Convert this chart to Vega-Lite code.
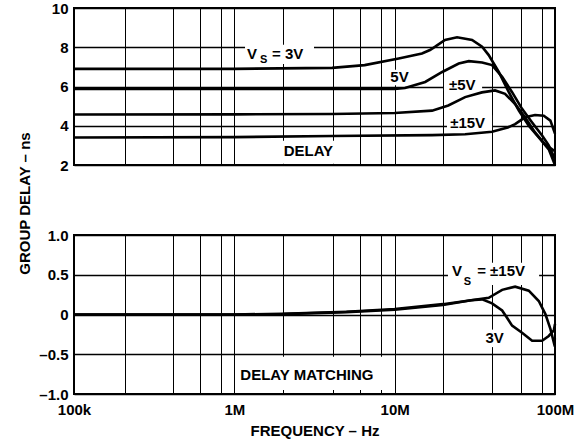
{
  "$schema": "https://vega.github.io/schema/vega-lite/v6.json",
  "autosize": {"type": "pad"},
  "padding": {"left": 16, "top": 0, "right": 5, "bottom": 5},
  "bounds": "flush",
  "spacing": 70,
  "background": "white",
  "config": {
    "view": {"stroke": "black", "strokeWidth": 2},
    "font": "Liberation Sans",
    "axis": {
      "domain": false,
      "ticks": false,
      "grid": true,
      "gridColor": "black",
      "gridWidth": 1,
      "gridOpacity": 1,
      "labelFont": "Liberation Sans",
      "labelFontSize": 15,
      "labelFontWeight": "bold",
      "labelColor": "black",
      "labelOverlap": false,
      "titleFont": "Liberation Sans",
      "titleFontSize": 15,
      "titleFontWeight": "bold",
      "titleColor": "black"
    },
    "axisY": {"gridColor": "black", "gridWidth": 1.5}
  },
  "datasets": {
    "lines_top": [
      {"s": "3V", "f": 100000, "v": 6.9}, {"s": "3V", "f": 1000000, "v": 6.9}, {"s": "3V", "f": 4070000, "v": 6.95}, {"s": "3V", "f": 6500000, "v": 7.09}, {"s": "3V", "f": 10600000, "v": 7.43}, {"s": "3V", "f": 14800000, "v": 7.68}, {"s": "3V", "f": 16600000, "v": 7.86}, {"s": "3V", "f": 17900000, "v": 8.03}, {"s": "3V", "f": 20600000, "v": 8.37}, {"s": "3V", "f": 24500000, "v": 8.51}, {"s": "3V", "f": 30400000, "v": 8.37}, {"s": "3V", "f": 35100000, "v": 8.03}, {"s": "3V", "f": 38600000, "v": 7.6}, {"s": "3V", "f": 44600000, "v": 6.74}, {"s": "3V", "f": 51500000, "v": 5.71}, {"s": "3V", "f": 59500000, "v": 4.77}, {"s": "3V", "f": 68600000, "v": 4.0}, {"s": "3V", "f": 79200000, "v": 3.4}, {"s": "3V", "f": 91400000, "v": 2.8}, {"s": "3V", "f": 100000000, "v": 2.0},
      {"s": "5V", "f": 100000, "v": 5.88}, {"s": "5V", "f": 1000000, "v": 5.88}, {"s": "5V", "f": 10000000, "v": 5.88}, {"s": "5V", "f": 11600000, "v": 5.92}, {"s": "5V", "f": 15500000, "v": 6.23}, {"s": "5V", "f": 19800000, "v": 6.74}, {"s": "5V", "f": 25100000, "v": 7.17}, {"s": "5V", "f": 29000000, "v": 7.29}, {"s": "5V", "f": 35100000, "v": 7.22}, {"s": "5V", "f": 40500000, "v": 7.09}, {"s": "5V", "f": 46800000, "v": 6.49}, {"s": "5V", "f": 54000000, "v": 5.71}, {"s": "5V", "f": 62300000, "v": 4.86}, {"s": "5V", "f": 72000000, "v": 4.17}, {"s": "5V", "f": 83100000, "v": 3.5}, {"s": "5V", "f": 91400000, "v": 3.0}, {"s": "5V", "f": 100000000, "v": 2.3},
      {"s": "±5V", "f": 100000, "v": 4.57}, {"s": "±5V", "f": 1000000, "v": 4.58}, {"s": "±5V", "f": 4070000, "v": 4.6}, {"s": "±5V", "f": 10000000, "v": 4.65}, {"s": "±5V", "f": 17100000, "v": 4.77}, {"s": "±5V", "f": 21600000, "v": 5.03}, {"s": "±5V", "f": 27500000, "v": 5.46}, {"s": "±5V", "f": 35000000, "v": 5.7}, {"s": "±5V", "f": 42300000, "v": 5.8}, {"s": "±5V", "f": 48800000, "v": 5.63}, {"s": "±5V", "f": 56400000, "v": 5.11}, {"s": "±5V", "f": 65000000, "v": 4.43}, {"s": "±5V", "f": 75100000, "v": 3.66}, {"s": "±5V", "f": 86700000, "v": 3.05}, {"s": "±5V", "f": 100000000, "v": 2.7},
      {"s": "±15V", "f": 100000, "v": 3.4}, {"s": "±15V", "f": 1000000, "v": 3.42}, {"s": "±15V", "f": 4070000, "v": 3.48}, {"s": "±15V", "f": 17100000, "v": 3.52}, {"s": "±15V", "f": 27500000, "v": 3.57}, {"s": "±15V", "f": 40500000, "v": 3.69}, {"s": "±15V", "f": 46800000, "v": 3.83}, {"s": "±15V", "f": 50700000, "v": 3.91}, {"s": "±15V", "f": 56400000, "v": 4.08}, {"s": "±15V", "f": 65000000, "v": 4.43}, {"s": "±15V", "f": 75100000, "v": 4.55}, {"s": "±15V", "f": 85100000, "v": 4.51}, {"s": "±15V", "f": 93600000, "v": 4.26}, {"s": "±15V", "f": 100000000, "v": 3.6}
    ],
    "lines_bot": [
      {"s": "±15V", "f": 100000, "v": 0}, {"s": "±15V", "f": 1000000, "v": 0}, {"s": "±15V", "f": 2000000, "v": 0.005}, {"s": "±15V", "f": 5000000, "v": 0.03}, {"s": "±15V", "f": 10000000, "v": 0.06}, {"s": "±15V", "f": 20000000, "v": 0.12}, {"s": "±15V", "f": 30000000, "v": 0.18}, {"s": "±15V", "f": 38600000, "v": 0.21}, {"s": "±15V", "f": 46800000, "v": 0.31}, {"s": "±15V", "f": 56400000, "v": 0.35}, {"s": "±15V", "f": 68600000, "v": 0.3}, {"s": "±15V", "f": 79200000, "v": 0.17}, {"s": "±15V", "f": 87100000, "v": 0.005}, {"s": "±15V", "f": 93600000, "v": -0.18}, {"s": "±15V", "f": 98300000, "v": -0.35}, {"s": "±15V", "f": 100000000, "v": -0.3},
      {"s": "3V", "f": 100000, "v": 0}, {"s": "3V", "f": 1000000, "v": 0}, {"s": "3V", "f": 2000000, "v": 0.01}, {"s": "3V", "f": 5000000, "v": 0.035}, {"s": "3V", "f": 10000000, "v": 0.07}, {"s": "3V", "f": 20000000, "v": 0.13}, {"s": "3V", "f": 30000000, "v": 0.18}, {"s": "3V", "f": 35100000, "v": 0.19}, {"s": "3V", "f": 40500000, "v": 0.14}, {"s": "3V", "f": 46800000, "v": 0.05}, {"s": "3V", "f": 50200000, "v": -0.04}, {"s": "3V", "f": 54000000, "v": -0.14}, {"s": "3V", "f": 62300000, "v": -0.23}, {"s": "3V", "f": 72000000, "v": -0.33}, {"s": "3V", "f": 83100000, "v": -0.33}, {"s": "3V", "f": 91400000, "v": -0.27}, {"s": "3V", "f": 98300000, "v": -0.2}, {"s": "3V", "f": 100000000, "v": -0.12}
    ],
    "box_top": [
      {"f": 1166000, "f2": 3140000, "v": 8.13, "v2": 7.15},
      {"f": 9100000, "f2": 12500000, "v": 6.85, "v2": 6.07},
      {"f": 20300000, "f2": 35100000, "v": 6.49, "v2": 5.75},
      {"f": 21200000, "f2": 40500000, "v": 4.53, "v2": 3.76},
      {"f": 1930000, "f2": 4440000, "v": 3.24, "v2": 2.06}
    ],
    "txt_top": [
      {"t": "V", "f": 1200000, "v": 7.68},
      {"t": "= 3V", "f": 1720000, "v": 7.68},
      {"t": "5V", "f": 9400000, "v": 6.49},
      {"t": "±5V", "f": 21800000, "v": 6.1},
      {"t": "±15V", "f": 22200000, "v": 4.15},
      {"t": "DELAY", "f": 2030000, "v": 2.7}
    ],
    "sub_top": [
      {"t": "S", "f": 1445000, "v": 7.33}
    ],
    "box_bot": [
      {"f": 21500000, "f2": 79600000, "v": 0.65, "v2": 0.37},
      {"f": 35100000, "f2": 50200000, "v": -0.19, "v2": -0.41},
      {"f": 1040000, "f2": 8830000, "v": -0.53, "v2": -0.95}
    ],
    "txt_bot": [
      {"t": "V", "f": 22800000, "v": 0.55},
      {"t": "= ±15V", "f": 32700000, "v": 0.55},
      {"t": "3V", "f": 36800000, "v": -0.3},
      {"t": "DELAY MATCHING", "f": 1090000, "v": -0.76}
    ],
    "sub_bot": [
      {"t": "S", "f": 27000000, "v": 0.41}
    ]
  },
  "vconcat": [
    {
      "width": 481,
      "height": 157,
      "encoding": {
        "x": {"field": "f", "type": "quantitative", "scale": {"type": "log", "domain": [100000, 100000000], "nice": false},
          "axis": {"title": null, "labels": false, "grid": true, "values": [100000, 208000, 415000, 610000, 826000, 1000000, 2000000, 4150000, 6100000, 8260000, 10000000, 20000000, 40300000, 61000000, 82600000, 100000000]}},
        "y": {"field": "v", "type": "quantitative", "scale": {"domain": [2, 10], "nice": false, "zero": false},
          "axis": {"values": [2, 4, 6, 8, 10], "grid": true, "labelPadding": 6, "title": "GROUP DELAY – ns", "titleX": -45, "titleY": 195, "titleAngle": -90, "titleAlign": "center", "titleBaseline": "alphabetic"}}
      },
      "layer": [
        {
          "data": {"name": "box_top"},
          "mark": {"type": "rect", "fill": "white", "stroke": null},
          "encoding": {"x2": {"field": "f2"}, "y2": {"field": "v2"}}
        },
        {
          "data": {"name": "lines_top"},
          "mark": {"type": "line", "color": "black", "strokeWidth": 2.6},
          "encoding": {"detail": {"field": "s", "type": "nominal"}}
        },
        {
          "data": {"name": "txt_top"},
          "mark": {"type": "text", "align": "left", "baseline": "middle", "fontSize": 15, "fontWeight": "bold", "font": "Liberation Sans", "color": "black"},
          "encoding": {"text": {"field": "t"}}
        },
        {
          "data": {"name": "sub_top"},
          "mark": {"type": "text", "align": "left", "baseline": "middle", "fontSize": 11, "fontWeight": "bold", "font": "Liberation Sans", "color": "black"},
          "encoding": {"text": {"field": "t"}}
        }
      ]
    },
    {
      "width": 481,
      "height": 159,
      "encoding": {
        "x": {"field": "f", "type": "quantitative", "scale": {"type": "log", "domain": [100000, 100000000], "nice": false},
          "axis": {"title": "FREQUENCY – Hz", "grid": true, "titlePadding": 6, "labelPadding": 8, "labelFlush": false, "labelBound": false,
            "values": [100000, 208000, 415000, 610000, 826000, 1000000, 2000000, 4150000, 6100000, 8260000, 10000000, 20000000, 40300000, 61000000, 82600000, 100000000],
            "labelExpr": "datum.value == 100000 ? '100k' : datum.value == 1000000 ? '1M' : datum.value == 10000000 ? '10M' : datum.value == 100000000 ? '100M' : ''"}},
        "y": {"field": "v", "type": "quantitative", "scale": {"domain": [-1, 1], "nice": false, "zero": false},
          "axis": {"values": [-1, -0.5, 0, 0.5, 1], "grid": true, "labelPadding": 6, "title": null,
            "labelExpr": "datum.value == 0 ? '0' : datum.value < 0 ? '–' + format(-datum.value, '.1f') : format(datum.value, '.1f')"}}
      },
      "layer": [
        {
          "data": {"name": "box_bot"},
          "mark": {"type": "rect", "fill": "white", "stroke": null},
          "encoding": {"x2": {"field": "f2"}, "y2": {"field": "v2"}}
        },
        {
          "data": {"name": "lines_bot"},
          "mark": {"type": "line", "color": "black", "strokeWidth": 2.6},
          "encoding": {"detail": {"field": "s", "type": "nominal"}}
        },
        {
          "data": {"name": "txt_bot"},
          "mark": {"type": "text", "align": "left", "baseline": "middle", "fontSize": 15, "fontWeight": "bold", "font": "Liberation Sans", "color": "black"},
          "encoding": {"text": {"field": "t"}}
        },
        {
          "data": {"name": "sub_bot"},
          "mark": {"type": "text", "align": "left", "baseline": "middle", "fontSize": 11, "fontWeight": "bold", "font": "Liberation Sans", "color": "black"},
          "encoding": {"text": {"field": "t"}}
        }
      ]
    }
  ]
}
